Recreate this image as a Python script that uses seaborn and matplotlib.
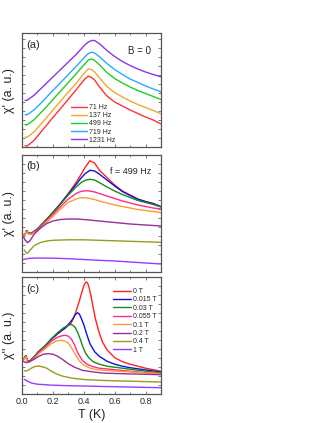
import matplotlib
matplotlib.use("Agg")
import matplotlib.pyplot as plt
from matplotlib.ticker import MultipleLocator, NullFormatter
import seaborn as sns

#%% data (arbitrary units)
# panel (a): chi' vs T at B = 0 for several frequencies
freq_labels = ["71 Hz", "137 Hz", "499 Hz", "719 Hz", "1231 Hz"]
freq_colors = ["#ff3333", "#f0a830", "#22cc22", "#29aaff", "#8a35ee"]
T_a = [0.02, 0.03, 0.05, 0.08, 0.12, 0.16, 0.20, 0.25, 0.30, 0.35, 0.38, 0.41,
       0.43, 0.45, 0.47, 0.50, 0.55, 0.60, 0.65, 0.70, 0.75, 0.80, 0.85, 0.90]
chi_71 = [2, 1.3, 3.5, 7.5, 15, 22.5, 30, 39, 48.3, 57.5, 63.5, 69,
          71.3, 70, 67.5, 61, 51.5, 45.5, 41.5, 37.5, 34, 30.5, 27.5, 23.5]
chi_137 = [10.7, 10, 12, 16, 23, 30, 37.5, 46.5, 55.5, 64, 70, 75.5,
           78.5, 78, 75.5, 70, 61, 55, 50.5, 46.5, 43, 40, 37, 33.7]
chi_499 = [23, 22.5, 24.5, 28, 34.5, 41, 48, 56.5, 65, 73.5, 79, 84,
           87.5, 88.5, 87, 83, 75, 69, 64.5, 60.5, 57, 54, 51, 48]
chi_719 = [33, 32.5, 34.5, 38, 44, 50.5, 57, 65, 73, 81, 86, 91,
           94, 95.3, 94.5, 91, 84, 78, 73, 68.5, 65, 61.5, 58.5, 55.7]
chi_1231 = [47.3, 47, 49, 52.5, 58.5, 64.5, 70.5, 78, 85.5, 93, 98, 103,
            105.5, 107, 107, 104, 97, 91, 86, 82, 78.5, 75.5, 73, 70.7]

# panels (b) and (c): f = 499 Hz, several fields
field_labels = ["0 T", "0.015 T", "0.03 T", "0.055 T", "0.1 T", "0.2 T", "0.4 T", "1 T"]
field_colors = ["#ff2222", "#0a14dd", "#1a8a1a", "#ff2a8c", "#ff9a33",
                "#992f99", "#9a9a1e", "#9a3cff"]

T_b = [0.01, 0.02, 0.03, 0.04, 0.06, 0.10, 0.15, 0.20, 0.25, 0.30, 0.35, 0.38,
       0.41, 0.44, 0.47, 0.50, 0.55, 0.60, 0.65, 0.70, 0.75, 0.80, 0.85, 0.90]
re_0T = [37, 37.5, 41.5, 39, 38.5, 43, 51, 59.5, 68.5, 78.5, 89.5, 97,
         105, 111.3, 109, 102, 94.5, 87, 81, 77, 73, 70.5, 68.5, 65.3]
re_0015T = [37, 37.5, 41.5, 39, 38.5, 43, 51, 59.5, 68.5, 78, 87.5, 93.5,
            98.5, 101.7, 101, 98, 92, 86, 80.5, 76.5, 72.8, 70.3, 68.3, 65.3]
re_003T = [37, 37.5, 41.5, 39, 38.5, 43, 51, 59.5, 68, 77, 85, 89,
           91.8, 92.7, 92, 89.5, 85, 81, 77.5, 74.5, 71.5, 69.5, 67.5, 65]
re_0055T = [37, 37.5, 41, 38.5, 38, 42, 50, 57.5, 65.5, 73, 78.5, 80.5,
            81.3, 81, 80, 78.5, 76, 73.5, 71, 69, 67, 65.5, 64, 63]
re_01T = [36.5, 37, 40.5, 38, 37.5, 41, 48.5, 55.5, 63, 69.5, 73, 74.3,
          74.2, 73.5, 72.5, 71, 69, 67, 65.5, 64, 62.5, 61.5, 60.5, 59.3]
T_b_02 = [0.01, 0.02, 0.035, 0.05, 0.08, 0.12, 0.16, 0.20, 0.25, 0.30, 0.35,
          0.40, 0.50, 0.60, 0.70, 0.80, 0.90]
re_02T = [35, 32, 29.3, 31, 38, 44, 48.5, 51, 52.5, 53, 53,
          52.5, 51, 49.5, 48, 47, 46]
T_b_04 = [0.015, 0.025, 0.035, 0.05, 0.08, 0.12, 0.16, 0.20, 0.30, 0.40,
          0.50, 0.60, 0.70, 0.80, 0.90]
re_04T = [22, 19.5, 18.7, 21.5, 26.5, 29.5, 31, 31.7, 32.2, 32.2,
          31.7, 31.2, 30.7, 30.2, 29.7]
T_b_1 = [0.01, 0.05, 0.10, 0.20, 0.30, 0.40, 0.50, 0.60, 0.70, 0.80, 0.90]
re_1T = [12.5, 13.7, 14, 13.8, 13.3, 12.5, 11.7, 11, 10, 9, 8]

T_c_0 = [0.01, 0.025, 0.035, 0.05, 0.08, 0.105, 0.15, 0.19, 0.23, 0.28, 0.32,
         0.345, 0.37, 0.39, 0.403, 0.412, 0.418, 0.425, 0.434, 0.445, 0.46,
         0.475, 0.50, 0.52, 0.55, 0.60, 0.65, 0.70, 0.75, 0.80, 0.85, 0.90]
im_0T = [34.3, 38, 33, 32.5, 37, 41.7, 48, 54.5, 60, 65.5, 71,
         80, 92, 103, 109, 111.3, 111.7, 110.5, 106.5, 99, 87,
         75, 61, 52, 44, 36, 32, 29.5, 27.5, 25.5, 24, 22.4]
T_c_0015 = [0.01, 0.025, 0.035, 0.05, 0.08, 0.105, 0.15, 0.19, 0.23, 0.28, 0.31,
            0.33, 0.345, 0.36, 0.372, 0.385, 0.40, 0.42, 0.44, 0.47, 0.50, 0.55,
            0.60, 0.65, 0.70, 0.80, 0.90]
im_0015T = [34.3, 38, 33, 32.5, 37, 41.7, 48, 54.5, 60, 66, 71,
            75, 79, 81, 79.5, 75, 69, 59, 50, 42, 37.5, 32.5,
            29.5, 27.5, 26, 23.8, 21.7]
T_c_003 = [0.01, 0.025, 0.035, 0.05, 0.08, 0.105, 0.15, 0.19, 0.23, 0.27, 0.30,
           0.315, 0.33, 0.345, 0.36, 0.375, 0.39, 0.41, 0.43, 0.46, 0.50, 0.55,
           0.60, 0.70, 0.80, 0.90]
im_003T = [34.3, 38, 33, 32.5, 37, 41.7, 48, 55, 61, 66, 68.5,
           69.2, 68.5, 66, 61.5, 55.5, 48.5, 41, 36.5, 32, 29.5, 27.5,
           26.5, 24.5, 22.5, 21]
T_c_0055 = [0.01, 0.025, 0.035, 0.05, 0.08, 0.105, 0.15, 0.19, 0.23, 0.26, 0.28,
            0.30, 0.32, 0.34, 0.36, 0.39, 0.42, 0.46, 0.50, 0.60, 0.70, 0.80, 0.90]
im_0055T = [34, 37.5, 32.5, 32, 36, 40.5, 46.5, 52.5, 56.5, 58, 58.4,
            57.5, 54.5, 49, 41, 33.5, 29.5, 27, 25.5, 24, 22.5, 21, 20]
T_c_01 = [0.01, 0.025, 0.035, 0.05, 0.08, 0.105, 0.15, 0.19, 0.22, 0.25, 0.28,
          0.30, 0.32, 0.34, 0.37, 0.40, 0.45, 0.50, 0.60, 0.70, 0.80, 0.90]
im_01T = [33.5, 37, 32, 31.5, 35, 39.5, 45, 50, 52.5, 53.4, 52.5,
          50.5, 46, 40.5, 33, 28.5, 25, 23.8, 22.7, 21.8, 20.8, 20]
T_c_02 = [0.01, 0.02, 0.03, 0.05, 0.08, 0.11, 0.14, 0.17, 0.20, 0.23, 0.26,
          0.30, 0.34, 0.39, 0.45, 0.52, 0.60, 0.70, 0.80, 0.90]
im_02T = [32.4, 31.5, 31, 32.5, 34.5, 37.5, 39.5, 40, 39.5, 37.5, 34.5,
          30, 26.5, 23.4, 22, 20.7, 20.2, 19.8, 19.4, 19]
T_c_04 = [0.015, 0.025, 0.04, 0.06, 0.08, 0.105, 0.13, 0.16, 0.19, 0.22, 0.26,
          0.30, 0.35, 0.40, 0.50, 0.60, 0.70, 0.80, 0.90]
im_04T = [23, 22.5, 23.5, 25.5, 27, 27.7, 27, 25.5, 22.5, 20, 17.7,
          16.3, 15, 14.2, 13.4, 12.9, 12.5, 12.1, 11.7]
T_c_1 = [0.015, 0.03, 0.06, 0.10, 0.15, 0.20, 0.30, 0.40, 0.50, 0.60, 0.70, 0.80, 0.90]
im_1T = [14.4, 13, 10.7, 9.5, 9, 8.5, 8, 7.7, 7.3, 7, 6.7, 6.3, 6]

xticks = [0.0, 0.2, 0.4, 0.6, 0.8]
xtick_labels = ["0.0", "0.2", "0.4", "0.6", "0.8"]

#%% style
sns.set_style("ticks")
plt.rcParams['font.family'] = ['Liberation Sans', 'DejaVu Sans']
plt.rcParams['axes.linewidth'] = 0.9
plt.rcParams['axes.edgecolor'] = '#555555'

fig = plt.figure(figsize=(3.27, 4.23), dpi=100)
ax_a = fig.add_axes([22 / 327, 1 - 147.5 / 423, 139 / 327, 114.5 / 423])
ax_b = fig.add_axes([22 / 327, 1 - 272 / 423, 139 / 327, 117 / 423])
ax_c = fig.add_axes([22 / 327, 1 - 393.7 / 423, 139 / 327, 116.7 / 423])


def draw(ax, series, colors, labels):
    for (t, y), c, lab in zip(series, colors, labels):
        sns.lineplot(x=t, y=y, ax=ax, color=c, lw=1.0, label=lab,
                     estimator=None, sort=False)


draw(ax_a, [(T_a, chi_71), (T_a, chi_137), (T_a, chi_499), (T_a, chi_719), (T_a, chi_1231)],
     freq_colors, freq_labels)
draw(ax_b, [(T_b, re_0T), (T_b, re_0015T), (T_b, re_003T), (T_b, re_0055T), (T_b, re_01T),
            (T_b_02, re_02T), (T_b_04, re_04T), (T_b_1, re_1T)],
     field_colors, field_labels)
draw(ax_c, [(T_c_0, im_0T), (T_c_0015, im_0015T), (T_c_003, im_003T), (T_c_0055, im_0055T),
            (T_c_01, im_01T), (T_c_02, im_02T), (T_c_04, im_04T), (T_c_1, im_1T)],
     field_colors, field_labels)

ylims = [(0, 114.5), (0, 117), (0, 116.7)]
for ax, yl in zip([ax_a, ax_b, ax_c], ylims):
    ax.set_xlim(0, 0.9)
    ax.set_ylim(*yl)
    ax.set_xticks(xticks)
    ax.xaxis.set_minor_locator(MultipleLocator(0.1))
    ax.yaxis.set_major_locator(MultipleLocator(9))
    ax.yaxis.set_major_formatter(NullFormatter())
    ax.tick_params(which='both', direction='in', top=True, right=True,
                   color='#666666', width=0.6)
    ax.tick_params(which='major', length=2.5)
    ax.tick_params(which='minor', length=1.5)
    ax.set_xlabel('')
    ax.set_ylabel("χ' (a. u.)", fontsize=9)
    ax.yaxis.set_label_coords(-0.05, 0.5)

ax_a.set_xticklabels([])
ax_b.set_xticklabels([])
ax_c.set_xticklabels(xtick_labels, fontsize=6.5)
ax_c.tick_params(axis='x', pad=2.5)
ax_c.set_ylabel("χ'' (a. u.)", fontsize=9)
ax_c.set_xlabel("T (K)", fontsize=9)
ax_c.xaxis.set_label_coords(0.5, -0.135)

# legends
ax_a.legend(loc='upper left', bbox_to_anchor=(0.35, 0.38), frameon=False, fontsize=5,
            handlelength=2.4, handletextpad=0.3, labelspacing=0.17,
            borderpad=0, borderaxespad=0)
ax_b.get_legend().remove()
ax_c.legend(loc='upper left', bbox_to_anchor=(0.655, 0.905), frameon=False, fontsize=5,
            handlelength=2.6, handletextpad=0.25, labelspacing=0.2,
            borderpad=0, borderaxespad=0)

# panel annotations
ax_a.text(0.03, 0.895, "(a)", transform=ax_a.transAxes, fontsize=8, va='center')
ax_a.text(0.93, 0.845, "B = 0", transform=ax_a.transAxes, fontsize=7, va='center', ha='right')
ax_b.text(0.03, 0.905, "(b)", transform=ax_b.transAxes, fontsize=8, va='center')
ax_b.text(0.93, 0.857, "f = 499 Hz", transform=ax_b.transAxes, fontsize=6.5, va='center', ha='right')
ax_c.text(0.03, 0.90, "(c)", transform=ax_c.transAxes, fontsize=8, va='center')

plt.savefig('out.png', dpi=100)
plt.close()
